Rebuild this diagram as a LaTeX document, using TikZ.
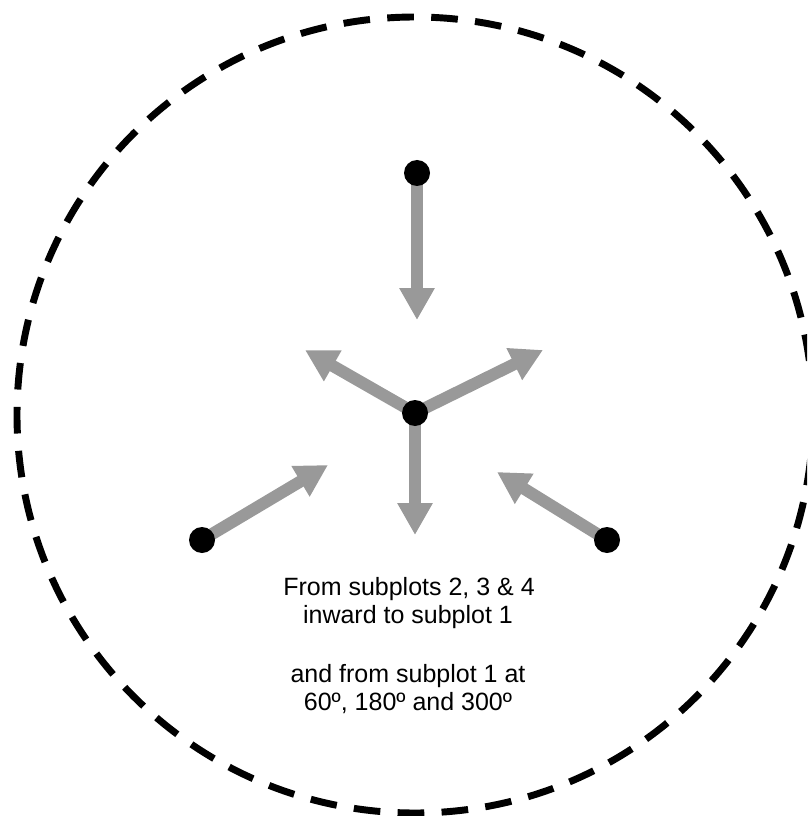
\documentclass[tikz,border=0pt]{standalone}
\usepackage{fontspec}
\setmainfont{Liberation Sans}
\usetikzlibrary{arrows.meta}
\definecolor{arrowgray}{RGB}{153,153,153}
\tikzset{
  flow/.style={draw=arrowgray, line width=9pt,
    -{Triangle[length=24pt, width=25pt]}},
  plotdot/.style={circle, fill=black, inner sep=0pt, minimum size=19.5pt},
  caption/.style={anchor=base, inner sep=0pt,
    font=\fontsize{18.75pt}{21pt}\selectfont},
  boundary/.style={draw=black, line width=5.2pt, dash pattern=on 20pt off 13pt}
}
\begin{document}
\begin{tikzpicture}[x=0.75pt, y=-0.75pt]
  \useasboundingbox (0,0) rectangle (807,816);
  % dashed plot boundary
  \begin{scope}
    \clip (0,0) rectangle (807,816);
    \draw[boundary] (415,415) circle [radius=398];
  \end{scope}

  % subplot centres
  \coordinate (c1) at (415,413);
  \coordinate (c2) at (417,173);
  \coordinate (c3) at (202,540);
  \coordinate (c4) at (607,540);

  % arrow end points
  \coordinate (t2) at (417,320);
  \coordinate (t3) at (328,465);
  \coordinate (t4) at (497,472);
  \coordinate (o60) at (543,350);
  \coordinate (o300) at (305,350);
  \coordinate (o180) at (415,535);

  % inward arrows
  \draw[flow] (c2) -- (t2);
  \draw[flow] (c3) -- (t3);
  \draw[flow] (c4) -- (t4);
  % outward arrows from subplot 1
  \draw[flow] (c1) -- (o60);
  \draw[flow] (c1) -- (o300);
  \draw[flow] (c1) -- (o180);

  % dots
  \node[plotdot] (p1) at (c1) {};
  \node[plotdot] (p2) at (c2) {};
  \node[plotdot] (p3) at (c3) {};
  \node[plotdot] (p4) at (c4) {};

  % description
  \node[caption] (l1) at (409,595) {From subplots 2, 3 \& 4};
  \node[caption] (l2) at (408,623) {inward to subplot 1};
  \node[caption] (l3) at (408,682) {and from subplot 1 at};
  \node[caption] (l4) at (408,710) {60º, 180º and 300º};
\end{tikzpicture}
\end{document}
